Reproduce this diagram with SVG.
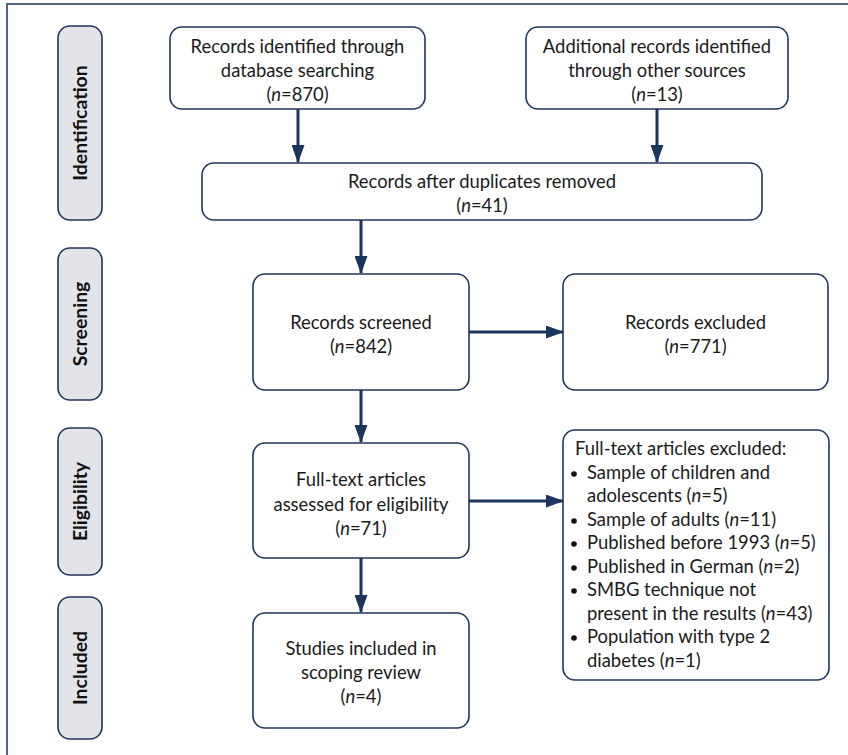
<svg xmlns="http://www.w3.org/2000/svg" width="848" height="755" viewBox="0 0 848 755">
<defs>
<style>
.frame{fill:none;stroke:#56667f;stroke-width:2}
.box{fill:#ffffff;stroke:#22355a;stroke-width:1.6}
.lab{fill:#e3e4ea;stroke:#22355a;stroke-width:1.6}
.t{font-family:Lato,"Liberation Sans",sans-serif;font-size:18.4px;fill:#1a1a1a;text-anchor:middle}
.tl{font-family:Lato,"Liberation Sans",sans-serif;font-size:18.4px;fill:#1a1a1a}
.lt{font-family:Lato,"Liberation Sans",sans-serif;font-size:19.4px;font-weight:bold;fill:#111;text-anchor:middle}
.c{stroke:#1b355e;stroke-width:3;fill:none}
.dot{fill:#111}
</style>
<marker id="ah" markerUnits="userSpaceOnUse" markerWidth="18" markerHeight="13" refX="17" refY="6.5" orient="auto">
<path d="M0,0 L18,6.5 L0,13 z" fill="#1b355e"/>
</marker>
</defs>
<rect width="848" height="755" fill="#ffffff"/>
<rect class="frame" x="7" y="4" width="860" height="770"/>

<g id="label-identification">
<rect class="lab" x="58" y="26" width="44" height="194" rx="12"/>
<text class="lt" transform="translate(87,123) rotate(-90)">Identification</text>
</g>
<g id="label-screening">
<rect class="lab" x="58" y="248" width="44" height="152" rx="12"/>
<text class="lt" transform="translate(87,324) rotate(-90)">Screening</text>
</g>
<g id="label-eligibility">
<rect class="lab" x="58" y="428" width="44" height="147" rx="12"/>
<text class="lt" transform="translate(87,501.5) rotate(-90)">Eligibility</text>
</g>
<g id="label-included">
<rect class="lab" x="58" y="597" width="44" height="142" rx="12"/>
<text class="lt" transform="translate(87,668) rotate(-90)">Included</text>
</g>

<g id="connectors">
<line class="c" x1="298" y1="109" x2="298" y2="162" marker-end="url(#ah)"/>
<line class="c" x1="657" y1="109" x2="657" y2="162" marker-end="url(#ah)"/>
<line class="c" x1="361" y1="220" x2="361" y2="273" marker-end="url(#ah)"/>
<line class="c" x1="469" y1="332" x2="563" y2="332" marker-end="url(#ah)"/>
<line class="c" x1="361" y1="390" x2="361" y2="442" marker-end="url(#ah)"/>
<line class="c" x1="469" y1="501" x2="563" y2="501" marker-end="url(#ah)"/>
<line class="c" x1="361" y1="558" x2="361" y2="612" marker-end="url(#ah)"/>
</g>

<g id="node-database">
<rect class="box" x="170" y="27" width="255" height="82" rx="12"/>
<text class="t" x="297.5" y="53">Records identified through</text>
<text class="t" x="297.5" y="77">database searching</text>
<text class="t" x="297.5" y="101">(<tspan font-style="italic">n</tspan>=870)</text>
</g>
<g id="node-other">
<rect class="box" x="526" y="27" width="262" height="82" rx="12"/>
<text class="t" x="657" y="53">Additional records identified</text>
<text class="t" x="657" y="77">through other sources</text>
<text class="t" x="657" y="101">(<tspan font-style="italic">n</tspan>=13)</text>
</g>
<g id="node-duplicates">
<rect class="box" x="202" y="163" width="560" height="57" rx="12"/>
<text class="t" x="482" y="188">Records after duplicates removed</text>
<text class="t" x="482" y="212">(<tspan font-style="italic">n</tspan>=41)</text>
</g>
<g id="node-screened">
<rect class="box" x="253" y="274" width="216" height="116" rx="12"/>
<text class="t" x="361" y="329">Records screened</text>
<text class="t" x="361" y="353">(<tspan font-style="italic">n</tspan>=842)</text>
</g>
<g id="node-excluded">
<rect class="box" x="563" y="274" width="265" height="116" rx="12"/>
<text class="t" x="695.5" y="329">Records excluded</text>
<text class="t" x="695.5" y="353">(<tspan font-style="italic">n</tspan>=771)</text>
</g>
<g id="node-fulltext">
<rect class="box" x="253" y="443" width="216" height="115" rx="12"/>
<text class="t" x="361" y="486">Full-text articles</text>
<text class="t" x="361" y="511">assessed for eligibility</text>
<text class="t" x="361" y="535">(<tspan font-style="italic">n</tspan>=71)</text>
</g>
<g id="node-fulltext-excluded">
<rect class="box" x="563" y="430" width="266" height="250" rx="12"/>
<text class="tl" x="575" y="455">Full-text articles excluded:</text>
<circle class="dot" cx="574" cy="474" r="2.8"/>
<text class="tl" x="587" y="479">Sample of children and</text>
<text class="tl" x="587" y="502">adolescents (<tspan font-style="italic">n</tspan>=5)</text>
<circle class="dot" cx="574" cy="521" r="2.8"/>
<text class="tl" x="587" y="526">Sample of adults (<tspan font-style="italic">n</tspan>=11)</text>
<circle class="dot" cx="574" cy="544" r="2.8"/>
<text class="tl" x="587" y="549">Published before 1993 (<tspan font-style="italic">n</tspan>=5)</text>
<circle class="dot" cx="574" cy="568" r="2.8"/>
<text class="tl" x="587" y="573">Published in German (<tspan font-style="italic">n</tspan>=2)</text>
<circle class="dot" cx="574" cy="591" r="2.8"/>
<text class="tl" x="587" y="596">SMBG technique not</text>
<text class="tl" x="587" y="620">present in the results (<tspan font-style="italic">n</tspan>=43)</text>
<circle class="dot" cx="574" cy="638" r="2.8"/>
<text class="tl" x="587" y="643">Population with type 2</text>
<text class="tl" x="587" y="667">diabetes (<tspan font-style="italic">n</tspan>=1)</text>
</g>
<g id="node-included">
<rect class="box" x="253" y="613" width="216" height="115" rx="12"/>
<text class="t" x="361" y="655">Studies included in</text>
<text class="t" x="361" y="679">scoping review</text>
<text class="t" x="361" y="703">(<tspan font-style="italic">n</tspan>=4)</text>
</g>
</svg>
